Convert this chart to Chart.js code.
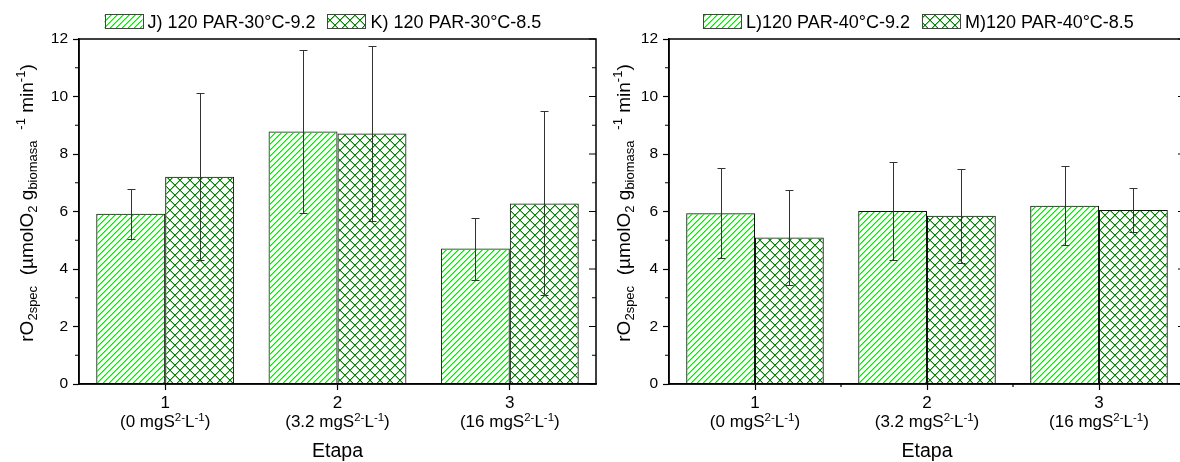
<!DOCTYPE html>
<html>
<head>
<meta charset="utf-8">
<script src="https://cdn.jsdelivr.net/npm/chart.js@4.4.1/dist/chart.umd.min.js"></script>
<style>
  html, body { margin: 0; padding: 0; background: #fff; overflow: hidden; width: 1180px; height: 462px; }
  canvas { position: absolute; top: 0; }
  #left { left: 0; }
  #right { left: 600px; }
</style>
</head>
<body>
<canvas id="left" width="600" height="462"></canvas>
<canvas id="right" width="600" height="462"></canvas>
<script>
// stages on the x axis
const stages = ['1', '2', '3'];
const stageDose = ['0', '3.2', '16'];

const labelsLeft = ['J) 120 PAR-30°C-9.2', 'K) 120 PAR-30°C-8.5'];
const labelsRight = ['L)120 PAR-40°C-9.2', 'M)120 PAR-40°C-8.5'];

// rO2spec means and std deviations
const rateJ = [5.92, 8.78, 4.71];
const errJ  = [0.86, 2.84, 1.08];
const rateK = [7.21, 8.71, 6.28];
const errK  = [2.91, 3.03, 3.20];
const rateL = [5.94, 6.02, 6.20];
const errL  = [1.57, 1.70, 1.37];
const rateM = [5.10, 5.85, 6.05];
const errM  = [1.64, 1.64, 0.77];

const yMin = 0, yMax = 12, yStep = 2;

const FONT = "'Liberation Sans', Arial, Helvetica, sans-serif";
Chart.defaults.font.family = FONT;
Chart.defaults.color = '#000';

const PLOT_TOP = 39, PLOT_BOTTOM = 384;

// hatch tiles drawn pixel by pixel so the colour stays exact
function diagPattern(ctx, color, soft) {
    const n = 6;
    const c = document.createElement('canvas');
    c.width = n; c.height = n;
    const g = c.getContext('2d');
    for (let i = 0; i < n; i++) {
        g.fillStyle = color;
        g.fillRect(i, n - 1 - i, 1, 1);
        g.fillStyle = soft;
        g.fillRect(i, (n - i) % n, 1, 1);
    }
    return ctx.createPattern(c, 'repeat');
}

function crossPattern(ctx, color, soft) {
    const n = 10;
    const c = document.createElement('canvas');
    c.width = n; c.height = n;
    const g = c.getContext('2d');
    g.fillStyle = soft;
    for (let i = 0; i < n; i++) {
        g.fillRect(i, (i + 1) % n, 1, 1);
        g.fillRect(i, (n - i) % n, 1, 1);
    }
    g.fillStyle = color;
    for (let i = 0; i < n; i++) {
        g.clearRect(i, i, 1, 1);
        g.fillRect(i, i, 1, 1);
        g.clearRect(i, n - 1 - i, 1, 1);
        g.fillRect(i, n - 1 - i, 1, 1);
    }
    return ctx.createPattern(c, 'repeat');
}

function richWidth(ctx, parts) {
    let w = 0;
    for (const p of parts) {
        ctx.font = p.size + 'px ' + FONT;
        w += ctx.measureText(p.t).width;
    }
    return w;
}

function drawRich(ctx, parts, x, y) {
    let cx = x - richWidth(ctx, parts) / 2;
    for (const p of parts) {
        ctx.font = p.size + 'px ' + FONT;
        ctx.fillText(p.t, cx, y + (p.dy || 0));
        cx += ctx.measureText(p.t).width;
    }
}

const M = 19, S = 13;
const yTitleParts = [
    {t: 'rO', size: M}, {t: '2spec', size: S, dy: 4},
    {t: '  (µmolO', size: M}, {t: '2', size: S, dy: 4},
    {t: ' g', size: M}, {t: 'biomasa', size: S, dy: 4},
    {t: '   -1', size: S, dy: -8}, {t: ' min', size: M}, {t: '-1', size: S, dy: -8},
    {t: ')', size: M}
];

function doseParts(dose) {
    return [
        {t: '(' + dose + ' mgS', size: 17}, {t: '2-', size: 11.5, dy: -6},
        {t: 'L', size: 17}, {t: '-1', size: 11.5, dy: -6}, {t: ')', size: 17}
    ];
}

function panelPlugin(cfg) {
    return {
        id: 'panel',
        afterDraw(chart) {
            const {ctx, chartArea: a, scales: {x, y}} = chart;
            ctx.save();

            // error bars
            ctx.strokeStyle = '#333';
            ctx.lineWidth = 1;
            chart.data.datasets.forEach((ds, d) => {
                const meta = chart.getDatasetMeta(d);
                meta.data.forEach((bar, i) => {
                    const px = Math.round(bar.x) + 0.5;
                    const hi = Math.round(y.getPixelForValue(ds.data[i] + ds.errors[i])) + 0.5;
                    const lo = Math.round(y.getPixelForValue(ds.data[i] - ds.errors[i])) + 0.5;
                    ctx.beginPath();
                    ctx.moveTo(px, hi); ctx.lineTo(px, lo);
                    ctx.moveTo(px - 4, hi); ctx.lineTo(px + 4, hi);
                    ctx.moveTo(px - 4, lo); ctx.lineTo(px + 4, lo);
                    ctx.stroke();
                });
            });

            // frame
            ctx.strokeStyle = '#000';
            ctx.lineWidth = 1.5;
            ctx.beginPath();
            ctx.moveTo(a.left, a.top); ctx.lineTo(a.right, a.top);
            ctx.lineTo(a.right, a.bottom); ctx.lineTo(a.left, a.bottom);
            ctx.lineTo(a.left, a.top);
            ctx.stroke();

            // minor / mirrored ticks
            ctx.lineWidth = 1.2;
            ctx.beginPath();
            for (let v = yMin; v <= yMax; v++) {
                const py = y.getPixelForValue(v);
                if (v % yStep !== 0) {
                    ctx.moveTo(a.left - 4, py); ctx.lineTo(a.left, py);
                }
                const len = v % yStep === 0 ? 7 : 4;
                ctx.moveTo(a.right - len, py); ctx.lineTo(a.right, py);
            }
            if (cfg.boundaryTicks) {
                for (let i = 0; i < stages.length - 1; i++) {
                    const px = x.getPixelForValue(i + 0.5);
                    ctx.moveTo(px, a.bottom); ctx.lineTo(px, a.bottom + 3);
                }
            }
            ctx.stroke();

            // x labels
            ctx.fillStyle = '#000';
            ctx.textAlign = 'left';
            ctx.textBaseline = 'alphabetic';
            stages.forEach((s, i) => {
                const px = x.getPixelForValue(i);
                drawRich(ctx, [{t: s, size: 17}], px, 408);
                drawRich(ctx, doseParts(stageDose[i]), px, 427);
            });
            drawRich(ctx, [{t: 'Etapa', size: 19.5}], (a.left + a.right) / 2, 457);

            // y title
            ctx.save();
            ctx.translate(cfg.titleX, 203);
            ctx.rotate(-Math.PI / 2);
            drawRich(ctx, yTitleParts, 0, 0);
            ctx.restore();

            // legend
            let lx = cfg.legendX;
            chart.data.datasets.forEach((ds) => {
                ctx.fillStyle = ds.backgroundColor;
                ctx.fillRect(lx, 14.5, 38, 14);
                ctx.strokeStyle = '#444';
                ctx.lineWidth = 1;
                ctx.strokeRect(Math.round(lx) + 0.5, 14.5, 38, 14);
                ctx.fillStyle = '#000';
                ctx.font = '18px ' + FONT;
                ctx.fillText(ds.label, lx + 43, 27.5);
                lx += 43 + ctx.measureText(ds.label).width + 12;
            });
            ctx.restore();
        }
    };
}

function makePanel(id, labels, seriesA, errA, seriesB, errB, cfg) {
    const canvas = document.getElementById(id);
    const ctx = canvas.getContext('2d');
    return new Chart(ctx, {
        type: 'bar',
        data: {
            labels: stages,
            datasets: [
                {
                    label: labels[0], data: seriesA, errors: errA,
                    backgroundColor: diagPattern(ctx, 'rgb(0,235,0)', 'rgba(0,235,0,0.55)'),
                    borderColor: '#111', borderWidth: 1,
                    categoryPercentage: 0.8, barPercentage: 1.0
                },
                {
                    label: labels[1], data: seriesB, errors: errB,
                    backgroundColor: crossPattern(ctx, 'rgb(0,135,0)', 'rgba(0,135,0,0.45)'),
                    borderColor: '#111', borderWidth: 1,
                    categoryPercentage: 0.8, barPercentage: 1.0
                }
            ]
        },
        options: {
            responsive: false,
            animation: false,
            events: [],
            layout: { padding: { top: PLOT_TOP, right: canvas.width - cfg.plotRight, bottom: 0, left: 0 } },
            plugins: { legend: { display: false }, tooltip: { enabled: false } },
            scales: {
                x: {
                    offset: true,
                    grid: { offset: false, drawOnChartArea: false, tickLength: 6, tickColor: '#000', tickWidth: 1.2 },
                    border: { color: '#000', width: 1.5 },
                    ticks: { display: false },
                    afterFit(s) { s.height = canvas.height - PLOT_BOTTOM; }
                },
                y: {
                    min: yMin, max: yMax,
                    ticks: { stepSize: yStep, padding: 5, color: '#000', font: { size: 15.5 } },
                    grid: { drawOnChartArea: false, tickLength: 6, tickColor: '#000', tickWidth: 1.2 },
                    border: { color: '#000', width: 1.5 },
                    afterFit(s) { s.width = cfg.plotLeft; }
                }
            }
        },
        plugins: [panelPlugin(cfg)]
    });
}

makePanel('left', labelsLeft, rateJ, errJ, rateK, errK,
    { plotLeft: 79, plotRight: 596, legendX: 104.5, titleX: 33, boundaryTicks: false });
makePanel('right', labelsRight, rateL, errL, rateM, errM,
    { plotLeft: 69, plotRight: 585, legendX: 103, titleX: 30, boundaryTicks: true });
</script>
</body>
</html>
